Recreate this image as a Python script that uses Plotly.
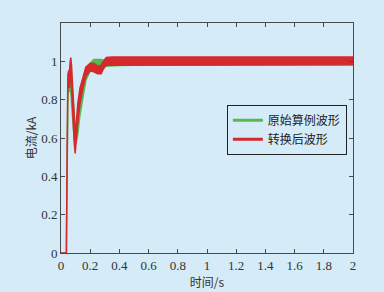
import plotly.graph_objects as go

# ---- data: time (s) and current band (kA) ----
t_orig = [0, 0.037, 0.039, 0.042, 0.047, 0.052, 0.058, 0.063, 0.067, 0.072, 0.080, 0.090, 0.097, 0.105,
          0.115, 0.130, 0.150, 0.170, 0.200, 0.225, 0.250, 0.275, 0.300, 0.350, 0.400, 0.500, 0.600,
          0.700, 1.0, 2.0]
lo_orig = [0, 0, 0.15, 0.50, 0.82, 0.86, 0.84, 0.88, 0.88, 0.82, 0.70, 0.60, 0.57, 0.58,
           0.62, 0.72, 0.82, 0.90, 0.95, 0.97, 0.975, 0.975, 0.975, 0.975, 0.978, 0.98, 0.982,
           0.982, 0.982, 0.982]
hi_orig = [0, 0, 0.20, 0.65, 0.90, 0.92, 0.92, 0.96, 0.96, 0.92, 0.82, 0.70, 0.65, 0.66,
           0.72, 0.82, 0.90, 0.96, 0.99, 1.01, 1.01, 1.01, 1.005, 1.00, 1.005, 1.01, 1.015,
           1.015, 1.015, 1.015]

t_conv = [0, 0.037, 0.039, 0.042, 0.047, 0.052, 0.058, 0.063, 0.067, 0.072, 0.080, 0.090, 0.097, 0.105,
          0.115, 0.130, 0.150, 0.170, 0.200, 0.225, 0.250, 0.275, 0.290, 0.310, 0.350, 0.400, 0.600,
          1.0, 1.5, 2.0]
lo_conv = [0, 0, 0.15, 0.55, 0.86, 0.88, 0.86, 0.94, 0.96, 0.88, 0.72, 0.58, 0.52, 0.58,
           0.68, 0.78, 0.86, 0.92, 0.95, 0.945, 0.935, 0.935, 0.96, 0.98, 0.982, 0.982, 0.982,
           0.982, 0.982, 0.982]
hi_conv = [0, 0, 0.20, 0.70, 0.93, 0.95, 0.95, 1.00, 1.02, 0.98, 0.85, 0.70, 0.62, 0.68,
           0.78, 0.86, 0.92, 0.97, 0.99, 0.99, 0.975, 0.98, 1.00, 1.02, 1.022, 1.022, 1.022,
           1.022, 1.022, 1.022]

x_ticks = [0, 0.2, 0.4, 0.6, 0.8, 1, 1.2, 1.4, 1.6, 1.8, 2]
y_ticks = [0, 0.2, 0.4, 0.6, 0.8, 1]
series_names = ["原始算例波形", "转换后波形"]

BG = "#d5ebf8"
GREEN = "#55bb4e"
RED = "#d42a2e"


def band(t, lo, hi):
    return list(t) + list(t)[::-1], list(hi) + list(lo)[::-1]


fig = go.Figure()
for t, lo, hi, col in [(t_orig, lo_orig, hi_orig, GREEN), (t_conv, lo_conv, hi_conv, RED)]:
    bx, by = band(t, lo, hi)
    fig.add_trace(go.Scatter(x=bx, y=by, mode="lines", fill="toself", fillcolor=col,
                             line=dict(color=col, width=1.5), showlegend=False, hoverinfo="skip"))

# legend entries
for name, col in zip(series_names, [GREEN, RED]):
    fig.add_trace(go.Scatter(x=[None], y=[None], mode="lines", name=name,
                             line=dict(color=col, width=3)))

axis_common = dict(showgrid=False, zeroline=False, showline=True, linecolor="#4a4a4a",
                   linewidth=1, mirror="ticks", ticks="inside", ticklen=4,
                   tickcolor="#4a4a4a", automargin=False,
                   tickfont=dict(family="Liberation Serif", size=13, color="#333333"))

fig.update_layout(
    width=384, height=292,
    paper_bgcolor=BG, plot_bgcolor=BG,
    margin=dict(l=61, r=31, t=23, b=39),
    xaxis=dict(range=[0, 2], tickvals=x_ticks, ticktext=[str(v) for v in x_ticks],
               title=dict(text="时间/s", standoff=2,
                          font=dict(family="Noto Sans CJK SC", size=12, color="#333333")),
               **axis_common),
    yaxis=dict(range=[0, 1.2], tickvals=y_ticks, ticktext=[str(v) for v in y_ticks],
               title=dict(text="电流/kA", standoff=1,
                          font=dict(family="Noto Sans CJK SC", size=12, color="#333333")),
               **axis_common),
    legend=dict(x=0.568, y=0.645, xanchor="left", yanchor="top",
                bgcolor=BG, bordercolor="#222222", borderwidth=1,
                font=dict(family="Noto Sans CJK SC", size=12, color="#222222"),
                tracegroupgap=0, itemwidth=30),
    showlegend=True,
)

fig.write_html("out.html", config={"displayModeBar": False},
               post_script="document.body.style.margin='0';")
